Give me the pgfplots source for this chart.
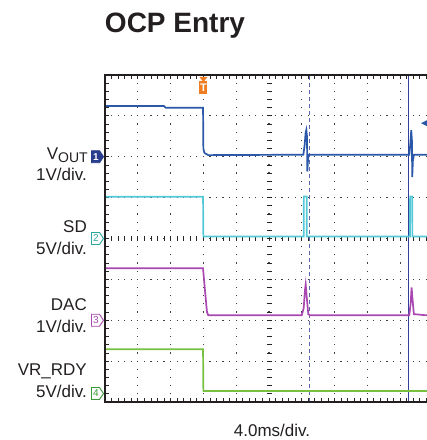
\documentclass[border=0pt]{standalone}
\usepackage{pgfplots}
\pgfplotsset{compat=1.18}
\usepackage{fontspec}
\setmainfont{Liberation Sans}
\definecolor{cvout}{HTML}{2B58A8}
\definecolor{cvoutd}{HTML}{283C8C}
\definecolor{csd}{HTML}{55C8D5}
\definecolor{csdd}{HTML}{2AA8A0}
\definecolor{cdac}{HTML}{A848B0}
\definecolor{crdy}{HTML}{78C040}
\definecolor{crdyd}{HTML}{3A9A3A}
\definecolor{ccur}{HTML}{33409A}
\definecolor{ctrig}{HTML}{F07D22}
\definecolor{ctxt}{HTML}{231F20}
\newcommand{\lab}{\fontsize{17}{20}\selectfont}
\newcommand{\chmark}[4]{% y, draw colour, fill colour, digit colour + digit
  \filldraw[draw=#2, fill=#3, line width=0.9pt, line join=miter] (92,{#1-6}) -- (99.5,{#1-6}) -- (103.5,#1) -- (99.5,{#1+6}) -- (92,{#1+6}) -- cycle;
  \node[inner sep=0, font=\fontsize{10}{10}\selectfont, text=#4] at (96.2,#1) {\textbf{}};
}
\begin{document}
\begin{tikzpicture}[x=1pt,y=1pt]
\useasboundingbox (0,0) rectangle (427,440);
% grid dots
\foreach \i in {1,...,9}{
  \draw[black!75, line width=1.2pt, dash pattern=on 1.2pt off 6.975pt, dash phase=0.6pt] ({105+32.79*\i},38) -- ({105+32.79*\i},365);
}
\foreach \j in {1,...,7}{
  \draw[black!75, line width=1.2pt, dash pattern=on 1.2pt off 5.358pt, dash phase=0.6pt] (105,{38+40.875*\j}) -- (427,{38+40.875*\j});
}
% centre-line and border ticks
\foreach \k in {1,...,39}{
  \draw[black!85, line width=0.8pt] (266.5,{38+8.175*\k}) -- (271.5,{38+8.175*\k});
  \draw[black!85, line width=0.8pt] (105,{38+8.175*\k}) -- (109,{38+8.175*\k});
}
\foreach \k in {1,...,49}{
  \draw[black!85, line width=0.8pt] ({105+6.558*\k},199) -- ({105+6.558*\k},204);
  \draw[black!85, line width=0.8pt] ({105+6.558*\k},365) -- ({105+6.558*\k},361);
  \draw[black!85, line width=0.8pt] ({105+6.558*\k},38) -- ({105+6.558*\k},42);
}
\begin{axis}[at={(105pt,38pt)}, anchor=south west, scale only axis,
  width=322pt, height=327pt, xmin=0, xmax=9.82, ymin=0, ymax=8,
  hide axis, clip=true]
% cursors
\addplot[ccur!80, line width=0.9pt, dash pattern=on 4pt off 3pt] coordinates {(6.25,0) (6.25,8)};
\addplot[ccur, line width=1.1pt] coordinates {(9.25,0) (9.25,8)};
% VR_RDY
\addplot[crdy, line width=1.7pt] coordinates {(0,1.29) (2.99,1.29) (3.0,0.27) (9.82,0.27)};
% DAC
\addplot[cdac, line width=1.7pt] coordinates {(0,3.27) (2.99,3.27) (3.03,2.9) (3.07,2.55) (3.11,2.2) (3.15,2.12) (6.0,2.12) (6.06,2.3) (6.1,2.75) (6.12,2.88) (6.16,2.5) (6.2,2.15) (6.25,2.12) (9.28,2.12) (9.32,2.4) (9.35,2.8) (9.38,2.5) (9.42,2.15) (9.82,2.12)};
% SD
\addplot[csd, line width=1.7pt] coordinates {(0,5.02) (2.99,5.02) (3.0,4.05) (6.06,4.05) (6.065,5.03) (6.15,5.03) (6.155,4.05) (9.30,4.05) (9.305,5.03) (9.37,5.03) (9.375,4.05) (9.82,4.05)};
% VOUT
\addplot[cvout, line width=1.7pt] coordinates {(0,7.24) (1.8,7.24) (1.85,7.2) (2.99,7.2) (3.0,6.2) (3.03,6.1) (3.06,6.08) (3.15,6.04) (6.05,6.05) (6.09,6.3) (6.12,6.6) (6.14,6.66) (6.16,6.5) (6.17,5.64) (6.19,5.9) (6.21,6.05) (9.28,6.05) (9.31,6.3) (9.34,6.65) (9.36,6.4) (9.37,5.5) (9.39,5.9) (9.42,6.05) (9.82,6.05)};
\end{axis}
% borders
\draw[ctxt, line width=2.6pt, line join=miter] (427,365) -- (105,365) -- (105,38) -- (427,38);
% channel markers
\filldraw[draw=cvoutd, fill=cvoutd, line width=0.9pt, line join=miter] (91.5,{283.25-6}) -- (99.5,{283.25-6}) -- (103.5,283.25) -- (99.5,{283.25+6}) -- (91.5,{283.25+6}) -- cycle;
\node[inner sep=0, font=\bfseries\fontsize{10}{10}\selectfont, text=white] at (96,283.25) {1};
\filldraw[draw=csdd, fill=white, line width=0.9pt, line join=miter] (91.5,{201.5-6}) -- (99.5,{201.5-6}) -- (103.5,201.5) -- (99.5,{201.5+6}) -- (91.5,{201.5+6}) -- cycle;
\node[inner sep=0, font=\fontsize{10}{10}\selectfont, text=csdd] at (96,201.5) {2};
\filldraw[draw=cdac, fill=white, line width=0.9pt, line join=miter] (91.5,{119.75-6}) -- (99.5,{119.75-6}) -- (103.5,119.75) -- (99.5,{119.75+6}) -- (91.5,{119.75+6}) -- cycle;
\node[inner sep=0, font=\fontsize{10}{10}\selectfont, text=cdac] at (96,119.75) {3};
\filldraw[draw=crdyd, fill=white, line width=0.9pt, line join=miter] (91.5,{46.5-6}) -- (99.5,{46.5-6}) -- (103.5,46.5) -- (99.5,{46.5+6}) -- (91.5,{46.5+6}) -- cycle;
\node[inner sep=0, font=\fontsize{10}{10}\selectfont, text=crdyd] at (96,46.5) {4};
% trigger marker
\fill[ctrig] (199.4,363) -- (207.4,363) -- (203.4,358) -- cycle;
\node[fill=ctrig, text=white, font=\bfseries\fontsize{11}{11}\selectfont, inner sep=0pt, minimum width=8pt, minimum height=13pt, anchor=north] at (203.4,359) {T};
% right level arrow
\fill[cvout] (421,{38+40.875*6.82}) -- (428,{38+40.875*6.82+3.5}) -- (428,{38+40.875*6.82-3.5}) -- cycle;
% labels
\node[anchor=base, inner sep=0, text=ctxt, font=\bfseries\fontsize{28}{30}\selectfont] at (175,407) {OCP Entry};
\node[anchor=base east, inner sep=0, text=ctxt, font=\lab] at (88,280) {V\raisebox{-3pt}{\fontsize{14}{14}\selectfont OUT}};
\node[anchor=base east, inner sep=0, text=ctxt, font=\lab] at (87,259.3) {1V/div.};
\node[anchor=base east, inner sep=0, text=ctxt, font=\lab] at (87,207) {SD};
\node[anchor=base east, inner sep=0, text=ctxt, font=\lab] at (87,185) {5V/div.};
\node[anchor=base east, inner sep=0, text=ctxt, font=\lab] at (87,129.3) {DAC};
\node[anchor=base east, inner sep=0, text=ctxt, font=\lab] at (87,107) {1V/div.};
\node[anchor=base east, inner sep=0, text=ctxt, font=\lab] at (87,64) {VR\_RDY};
\node[anchor=base east, inner sep=0, text=ctxt, font=\lab] at (87,42) {5V/div.};
\node[anchor=base, inner sep=0, text=ctxt, font=\lab] at (272,3) {4.0ms/div.};
\end{tikzpicture}
\end{document}
